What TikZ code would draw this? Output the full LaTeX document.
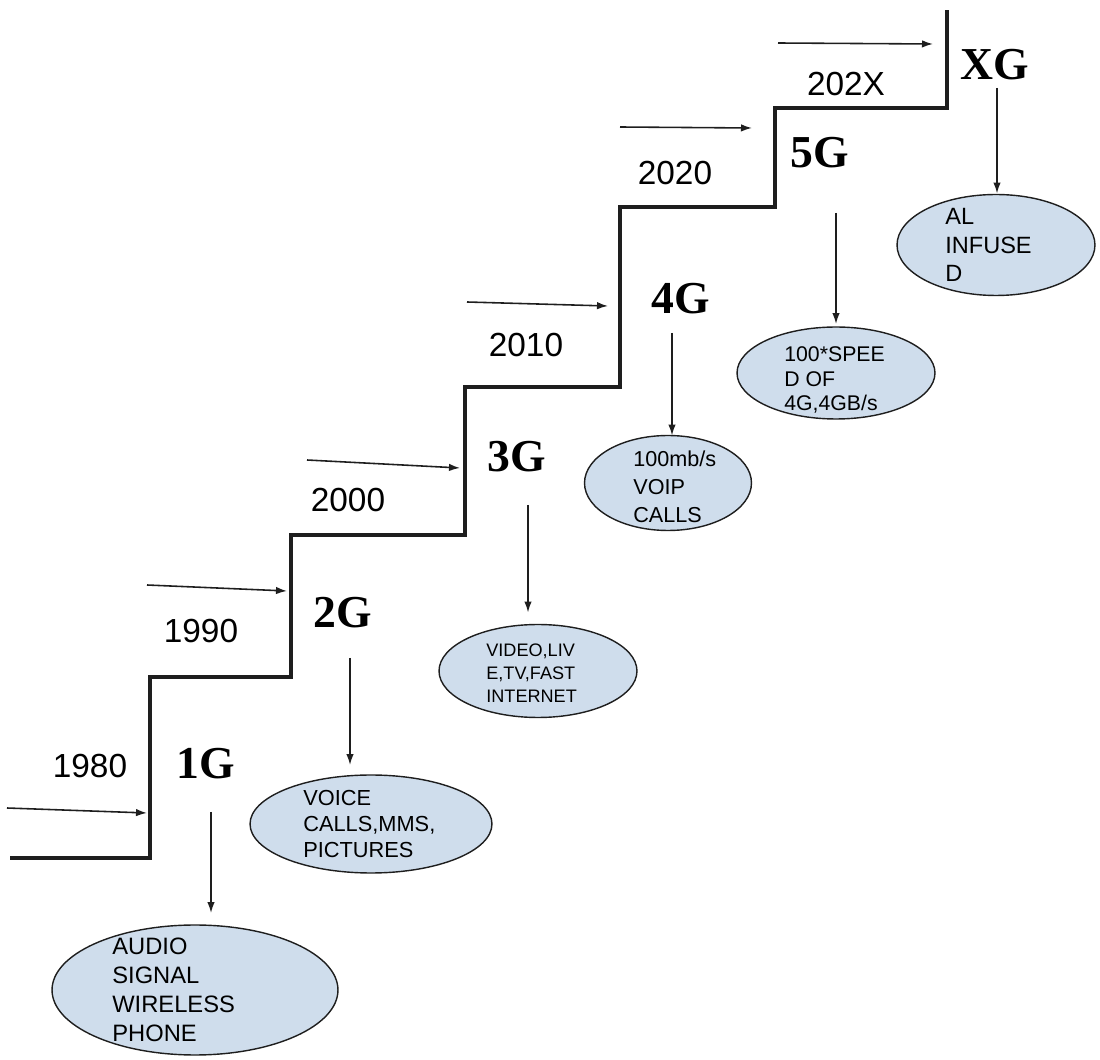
\documentclass[tikz,border=0pt]{standalone}
\usepackage{fontspec}
\setmainfont{Liberation Serif}
\newfontfamily\arialfont{Liberation Sans}
\usetikzlibrary{arrows.meta,shapes.geometric}
\definecolor{bubblefill}{RGB}{207,221,236}
\definecolor{ink}{RGB}{30,30,30}
\begin{document}
\begin{tikzpicture}[x=0.02cm,y=-0.02cm,
    stair/.style={draw=ink,line width=2.3pt},
    arr/.style={draw=ink,line width=0.9pt,-{Latex[length=2.2mm,width=1.5mm]}},
    year/.style={font=\arialfont\fontsize{19}{22}\selectfont,inner sep=0pt},
    gen/.style={font=\bfseries\fontsize{26}{30}\selectfont,inner sep=0pt},
    bubble/.style={ellipse,draw=ink,line width=0.8pt,fill=bubblefill,inner sep=0pt,outer sep=0pt},
    txt/.style={anchor=west,align=left,inner sep=0pt}]
    \useasboundingbox (0,0) rectangle (1100,1060);
    % the stairs
    \draw[stair] (10,858) -- (150,858) -- (150,677) -- (291,677) -- (291,535) -- (465,535)
        -- (465,387) -- (620,387) -- (620,207) -- (775,207) -- (775,108) -- (947,108) -- (947,10);
    % years and their arrows
    \foreach \yr/\lx/\ly/\ax/\ay/\bx/\by in {1980/90/766/7/808/147/813, 1990/201/631/147/585/287/591,
        2000/348/500/307/460/460/468, 2010/526/345/467/302/608/306,
        2020/675/173/620/127/752/128, 202X/846/84/778/43/933/44}{
        \node[year] (y\yr) at (\lx,\ly) {\yr};
        \coordinate (s\yr) at (\ax,\ay);
        \coordinate (f\yr) at (\bx,\by);
        \draw[arr] (s\yr) -- (f\yr);
    }
    % generations
    \node[gen] (g1) at (206,764) {1G};
    \node[gen] (g2) at (343,613) {2G};
    \node[gen] (g3) at (517,457) {3G};
    \node[gen] (g4) at (681,299) {4G};
    \node[gen] (g5) at (820,153) {5G};
    \node[gen] (gX) at (995,65) {XG};
    % bubbles
    \node[bubble,minimum width=5.72cm,minimum height=2.6cm] (e1) at (195,990) {};
    \node[bubble,minimum width=4.84cm,minimum height=1.96cm] (e2) at (371,824) {};
    \node[bubble,minimum width=3.96cm,minimum height=1.86cm] (e3) at (538,671) {};
    \node[bubble,minimum width=3.34cm,minimum height=1.9cm] (e4) at (668,483) {};
    \node[bubble,minimum width=3.96cm,minimum height=1.84cm] (e5) at (836,373) {};
    \node[bubble,minimum width=3.96cm,minimum height=2.02cm] (eX) at (996,245) {};
    \node[txt,font=\arialfont\fontsize{13.5}{16.4}\selectfont] (t1) at (112,990) {AUDIO\\SIGNAL\\WIRELESS\\PHONE};
    \node[txt,font=\arialfont\fontsize{12.4}{14.7}\selectfont] (t2) at (303,824) {VOICE\\CALLS,MMS,\\PICTURES};
    \node[txt,font=\arialfont\fontsize{10.3}{13}\selectfont] (t3) at (486,673) {VIDEO,LIV\\E,TV,FAST\\INTERNET};
    \node[txt,font=\arialfont\fontsize{12.3}{16}\selectfont] (t4) at (633,487) {100mb/s\\VOIP\\CALLS};
    \node[txt,font=\arialfont\fontsize{12.1}{14}\selectfont] (t5) at (784,380) {100*SPEE\\D OF\\4G,4GB/s};
    \node[txt,font=\arialfont\fontsize{13.4}{16}\selectfont] (tX) at (945,245) {AL\\INFUSE\\D};
    % arrows down to the bubbles
    \foreach \g/\dx/\dy/\gap in {1/211/812/12, 2/350/658/10, 3/528/505/12, 4/672/333/0, 5/836/213/3, X/997/88/1}{
        \coordinate (d\g) at (\dx,\dy);
        \draw[arr,shorten >=\gap*0.2mm] (d\g) -- (d\g |- e\g.north);
    }
\end{tikzpicture}
\end{document}
